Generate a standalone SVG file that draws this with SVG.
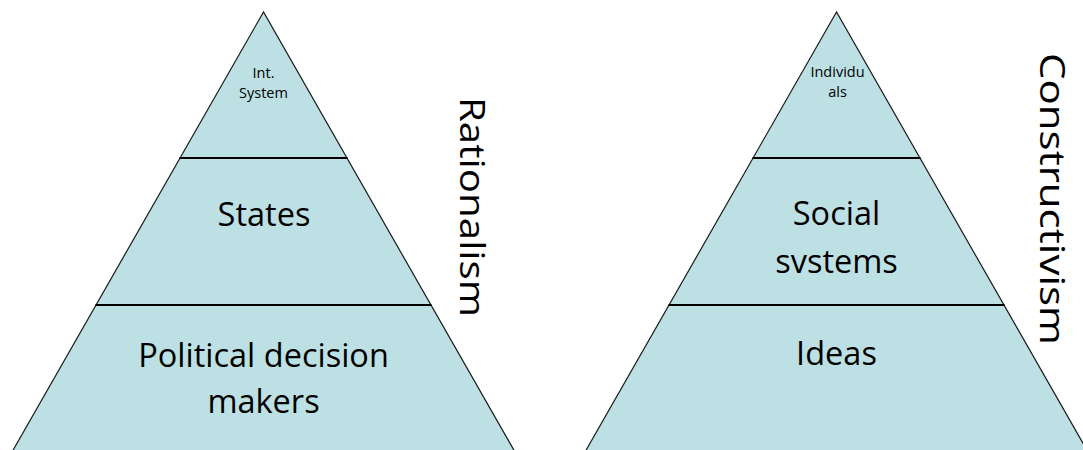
<svg xmlns="http://www.w3.org/2000/svg" width="1083" height="450" viewBox="0 0 1083 450">
<style>
.tri{fill:#bce0e3;stroke:#1a1a1a;stroke-width:1.2}
.sep{stroke:#000;stroke-width:2}
text{font-family:"Open Sans","Noto Sans",sans-serif;fill:#000;text-anchor:middle}
.s{font-size:14.5px}
.m{font-size:32.5px}
.v{font-size:35px}
</style>
<g id="left-pyramid">
<polygon class="tri" points="263.5,12 12,452 515,452"/>
</g>
<g id="right-pyramid">
<polygon class="tri" points="836.5,12 585,452 1088,452"/>
</g>
<g id="connectors">
<line class="sep" x1="179.5" y1="158" x2="347.5" y2="158"/>
<line class="sep" x1="95.5" y1="305" x2="431.5" y2="305"/>
<line class="sep" x1="752.5" y1="158" x2="920.5" y2="158"/>
<line class="sep" x1="668.5" y1="305" x2="1004.5" y2="305"/>
</g>
<g id="int-system"><text class="s" x="263.5" y="77.5">Int.</text><text class="s" x="263.5" y="98">System</text></g>
<g id="states"><text class="m" x="264" y="226">States</text></g>
<g id="political"><text class="m" x="263.5" y="367">Political decision</text><text class="m" x="263.5" y="413">makers</text></g>
<g id="individuals"><text class="s" x="837.5" y="77">Individu</text><text class="s" x="837.5" y="97">als</text></g>
<g id="social"><text class="m" x="836.5" y="225">Social</text><text class="m" x="836.5" y="273">svstems</text></g>
<g id="ideas"><text class="m" x="836.5" y="365">Ideas</text></g>
<g id="rationalism"><text class="v" transform="translate(460,207) rotate(90)" textLength="220" lengthAdjust="spacingAndGlyphs">Rationalism</text></g>
<g id="constructivism"><text class="v" transform="translate(1040,199) rotate(90)" textLength="292" lengthAdjust="spacingAndGlyphs">Constructivism</text></g>
</svg>
